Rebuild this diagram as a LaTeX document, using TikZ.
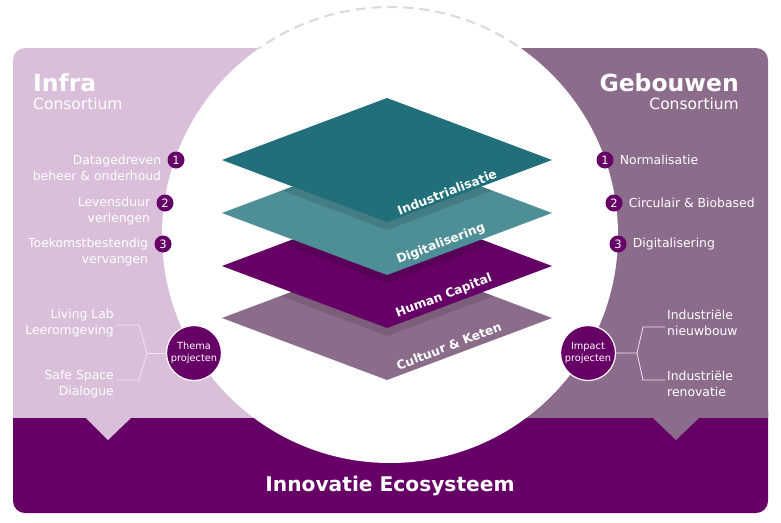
\documentclass[tikz,border=0pt]{standalone}
\usepackage{fontspec}
\setmainfont{DejaVu Sans}
\usetikzlibrary{positioning}
\definecolor{infralila}{RGB}{217,191,217}
\definecolor{gebouwlila}{RGB}{139,108,139}
\definecolor{ecopaars}{RGB}{102,0,102}
\definecolor{tealdonker}{RGB}{33,111,122}
\definecolor{teallicht}{RGB}{78,142,150}
\definecolor{streepgrijs}{RGB}{217,217,217}
\definecolor{haaklila}{RGB}{242,228,242}

% laag als ruit, middelpunt op hoogte #1
\newcommand{\ruit}[2]{\fill[#2] (222,#1) -- (387,{#1-62}) -- (552,#1) -- (387,{#1+62}) -- cycle;}
% schaduw van laag #1 op laag #2
\newcommand{\schaduw}[2]{%
  \begin{scope}
    \clip (222,#2) -- (387,{#2-62}) -- (552,#2) -- (387,{#2+62}) -- cycle;
    \fill[black, opacity=0.12] (222,{#1+8}) -- (387,{#1-54}) -- (552,{#1+8}) -- (387,{#1+70}) -- cycle;
  \end{scope}}

\begin{document}
\begin{tikzpicture}[
                x=1pt, y=-1pt,
                node distance=4pt,
                lijst/.style={text=white, font=\fontsize{12.4}{16}\selectfont, inner sep=2pt},
                nummer/.style={circle, fill=ecopaars, text=white, inner sep=0pt, minimum size=17pt, font=\fontsize{11.5}{10}\selectfont},
                project/.style={circle, fill=ecopaars, draw=white, line width=1.2pt, minimum size=55pt, inner sep=0pt, align=center, text=white, font=\fontsize{9.8}{12}\selectfont},
                laaglabel/.style={text=white, rotate=21, font=\bfseries\fontsize{12.3}{12}\selectfont},
                haak/.style={draw=haaklila, line width=0.8pt},
                kop/.style={text=white, font=\bfseries\fontsize{23.5}{26}\selectfont, inner sep=0pt},
                ondertitel/.style={text=white, font=\fontsize{15.5}{17}\selectfont, inner sep=0pt}
            ]
                \useasboundingbox (0,0) rectangle (781,522);

                % ondergrond
                \fill[ecopaars, rounded corners=12pt] (13,400) rectangle (768,513);
                \begin{scope}
                    \clip (0,0) rectangle (781,417);
                    \fill[infralila, rounded corners=12pt] (13,48) rectangle (390,440);
                    \fill[gebouwlila, rounded corners=12pt] (390,48) rectangle (768,440);
                \end{scope}
                \fill[infralila] (85,417) -- (132,417) -- (108,440) -- cycle;
                \fill[gebouwlila] (652,417) -- (700,417) -- (676,440) -- cycle;
                \fill[white] (390,235) circle[radius=228];
                \begin{scope}
                    \clip (0,0) rectangle (781,48);
                    \draw[streepgrijs, line width=2pt, dash pattern=on 10pt off 6pt] (390,235) circle[radius=228];
                \end{scope}

                % lagen
                \ruit{318}{gebouwlila}
                \schaduw{266}{318}
                \ruit{266}{ecopaars}
                \schaduw{213}{266}
                \ruit{213}{teallicht}
                \schaduw{160}{213}
                \ruit{160}{tealdonker}
                \node [laaglabel] (industrialisatie) at (447,192) {Industrialisatie};
                \node [laaglabel] (digitalisering) at (441,244) {Digitalisering};
                \node [laaglabel] (humancapital) at (444,296) {Human Capital};
                \node [laaglabel] (cultuur) at (449,346) {Cultuur \& Keten};

                % infra
                \node [kop, anchor=west] (infra) at (33,83) {Infra};
                \node [ondertitel, anchor=west] (infracons) at (33,104) {Consortium};
                \node [nummer] (infra1) at (176,160) {1};
                \node [nummer] (infra2) at (165,203) {2};
                \node [nummer] (infra3) at (163,244) {3};
                \node [lijst, align=right, left=of infra1, yshift=-8pt] (datagedreven) {Datagedreven\\beheer \& onderhoud};
                \node [lijst, align=right, left=of infra2, yshift=-8pt] (levensduur) {Levensduur\\verlengen};
                \node [lijst, align=right, left=of infra3, yshift=-8pt] (toekomst) {Toekomstbestendig\\vervangen};

                % gebouwen
                \node [kop, anchor=east] (gebouwen) at (739,83) {Gebouwen};
                \node [ondertitel, anchor=east] (gebouwcons) at (739,104) {Consortium};
                \node [nummer] (gebouw1) at (605,160) {1};
                \node [nummer] (gebouw2) at (614,203) {2};
                \node [nummer] (gebouw3) at (618,244) {3};
                \node [lijst, right=of gebouw1] (normalisatie) {Normalisatie};
                \node [lijst, right=of gebouw2] (circulair) {Circulair \& Biobased};
                \node [lijst, right=of gebouw3] (gebdigitaal) {Digitalisering};

                % thema projecten
                \node [project] (thema) at (194,353) {Thema\\projecten};
                \node [lijst, align=right, anchor=east] (livinglab) at (116,323) {Living Lab\\Leeromgeving};
                \node [lijst, align=right, anchor=east] (safespace) at (116,384) {Safe Space\\Dialogue};
                \coordinate (themasplit) at (147,353);
                \coordinate (themaboven) at (139,325);
                \coordinate (themaonder) at (139,380);
                \draw[haak] (livinglab.east |- themaboven) -- (themaboven) -- (themasplit) -- (themaonder) -- (safespace.east |- themaonder);
                \draw[haak] (themasplit) -- (thema);

                % impact projecten
                \node [project] (impact) at (588,353) {Impact\\projecten};
                \node [lijst, align=left, anchor=west] (nieuwbouw) at (665,323) {Industriële\\nieuwbouw};
                \node [lijst, align=left, anchor=west] (renovatie) at (665,384) {Industriële\\renovatie};
                \coordinate (impactsplit) at (637,353);
                \coordinate (impactboven) at (643,327);
                \coordinate (impactonder) at (643,380);
                \draw[haak] (impact) -- (impactsplit) -- (impactboven) -- (nieuwbouw.west |- impactboven);
                \draw[haak] (impactsplit) -- (impactonder) -- (renovatie.west |- impactonder);

                % ecosysteem
                \node [text=white, font=\bfseries\fontsize{20.2}{22}\selectfont] (ecosysteem) at (390,486) {Innovatie Ecosysteem};
            \end{tikzpicture}
\end{document}
